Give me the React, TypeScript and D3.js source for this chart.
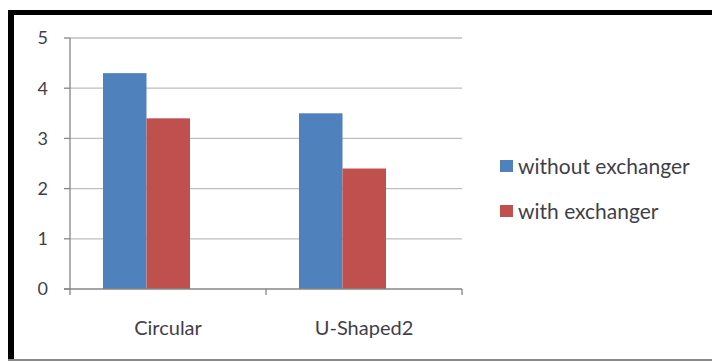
import React from "react";
import * as d3 from "d3";

const categories = ["Circular", "U-Shaped2"];
const seriesNames = ["without exchanger", "with exchanger"];
const withoutExchanger = [4.3, 3.5];
const withExchanger = [3.4, 2.4];
const yTicks = [0, 1, 2, 3, 4, 5];
const colors = ["#4F81BD", "#C0504D"];

export default function App() {
  const W = 712, H = 362;
  const plotLeft = 70, plotRight = 462, plotTop = 38, plotBottom = 289;
  const y = d3.scaleLinear().domain([0, 5]).range([plotBottom, plotTop]);
  const x0 = d3.scaleBand<string>().domain(categories).range([plotLeft, plotRight]);
  const groupOffset = 33;
  const groupWidth = 87;
  const x1 = d3.scaleBand<string>().domain(seriesNames).range([0, groupWidth]);
  const values = [withoutExchanger, withExchanger];
  const font = "Lato, 'Open Sans', sans-serif";
  const textColor = "#3f3f4a";

  return (
    <svg width={W} height={H} style={{ position: "absolute", left: 0, top: 0, background: "#fff" }}>
      <rect x={0} y={0} width={W} height={H} fill="#fff" />
      {/* frame */}
      <rect x={8} y={10} width={6} height={351} fill="#000" />
      <rect x={8} y={10} width={704} height={5} fill="#000" />
      <rect x={8} y={359} width={704} height={2} fill="#8a8a8a" />
      {/* gridlines */}
      {yTicks.map((t) => (
        <g key={t}>
          {t > 0 && (
            <line x1={plotLeft} x2={plotRight} y1={y(t)} y2={y(t)} stroke="#BEBEBE" strokeWidth={1.3} />
          )}
          <line x1={plotLeft - 6} x2={plotLeft} y1={y(t)} y2={y(t)} stroke="#868686" strokeWidth={1.3} />
          <text x={48} y={y(t)} dy="0.36em" textAnchor="end" fontFamily={font} fontSize={18} fill={textColor}>
            {t}
          </text>
        </g>
      ))}
      {/* bars */}
      {categories.map((c, ci) =>
        seriesNames.map((s, si) => (
          <rect
            key={c + s}
            x={(x0(c) as number) + groupOffset + (x1(s) as number)}
            y={y(values[si][ci])}
            width={x1.bandwidth()}
            height={plotBottom - y(values[si][ci])}
            fill={colors[si]}
          />
        ))
      )}
      {/* axes */}
      <line x1={plotLeft} x2={plotLeft} y1={plotTop} y2={plotBottom} stroke="#868686" strokeWidth={1.3} />
      <line x1={plotLeft - 6} x2={plotRight} y1={plotBottom} y2={plotBottom} stroke="#868686" strokeWidth={1.3} />
      {[plotLeft, ...categories.map((c) => (x0(c) as number) + x0.bandwidth())].map((xx, i) => (
        <line key={i} x1={xx} x2={xx} y1={plotBottom} y2={plotBottom + 6} stroke="#868686" strokeWidth={1.3} />
      ))}
      {categories.map((c) => (
        <text
          key={c}
          x={(x0(c) as number) + x0.bandwidth() / 2}
          y={335}
          textAnchor="middle"
          fontFamily={font}
          fontSize={20}
          fill={textColor}
        >
          {c}
        </text>
      ))}
      {/* legend */}
      {seriesNames.map((s, i) => (
        <g key={s} transform={`translate(500, ${160 + i * 45})`}>
          <rect x={0} y={0} width={13} height={12} fill={colors[i]} />
          <text x={18} y={14} fontFamily={font} fontSize={21} fill={textColor}>
            {s}
          </text>
        </g>
      ))}
    </svg>
  );
}
